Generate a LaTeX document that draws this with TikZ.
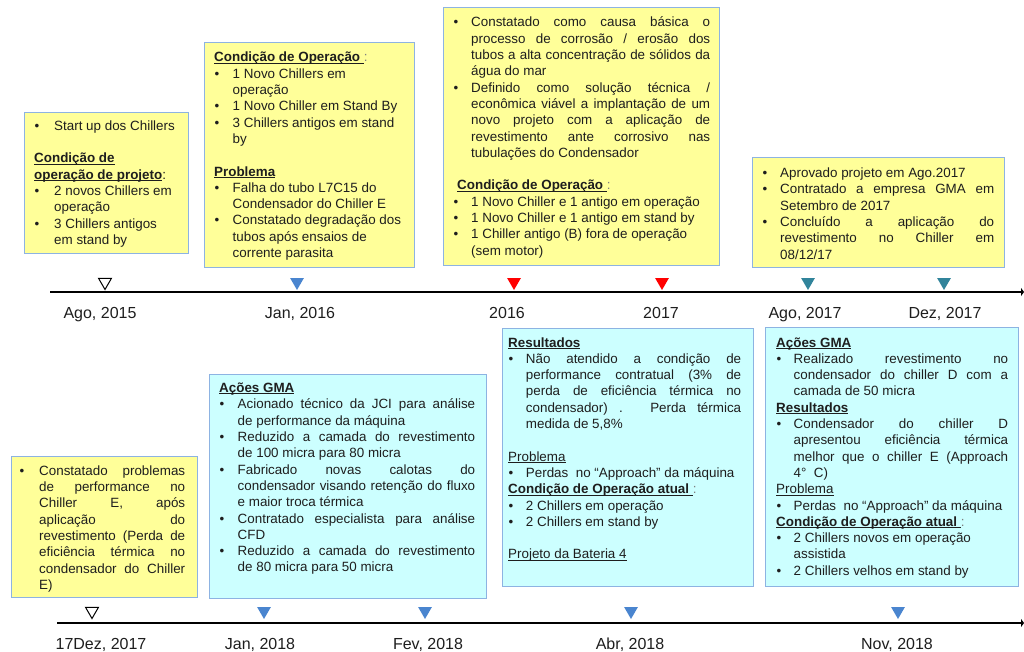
\documentclass[tikz,border=0pt]{standalone}
\usepackage{fontspec}
\setmainfont{Liberation Sans}
\usetikzlibrary{shapes.geometric,arrows.meta}
\definecolor{boxline}{HTML}{8DB3E2}
\definecolor{noteyellow}{HTML}{FFFF99}
\definecolor{notecyan}{HTML}{CCFFFF}
\definecolor{markblue}{HTML}{4A85CF}
\definecolor{markteal}{HTML}{31849B}
\definecolor{markred}{HTML}{FF0000}
\definecolor{ink}{HTML}{1E1E1E}

\newlength{\hangw}
\newsavebox{\undlbox}
\newcommand{\undl}[1]{\sbox{\undlbox}{#1}\rlap{\rule[-1.7pt]{\wd\undlbox}{0.9pt}}\usebox{\undlbox}}
\newcommand{\itm}[1]{\par\hangindent=\hangw\hangafter=1\noindent\strut\makebox[\hangw][l]{\hspace{0.5pt}\textbullet}#1\par}
\newcommand{\hd}[2][0pt]{\par\noindent\strut\hspace{#1}\undl{\textbf{#2}}}
\newcommand{\uhd}[1]{\par\noindent\strut\undl{#1}}
\newcommand{\gap}{\par\vspace{16.3pt}}

\begin{document}
\begin{tikzpicture}[x=1pt,y=-1pt,
  ybox/.style={draw=boxline, fill=noteyellow, line width=1.1pt, anchor=north west, inner sep=0pt},
  cbox/.style={ybox, fill=notecyan},
  txt/.style={anchor=north west, inner sep=0pt, align=justify, text=ink,
              font={\fontsize{13.4}{16.3}\selectfont\tolerance=10000\hbadness=10000\hyphenpenalty=10000}},
  bullethang/.code={\setlength{\hangw}{#1}},
  datelbl/.style={anchor=base, inner sep=0pt, text=ink, font=\fontsize{16}{19}\selectfont},
  tri/.style={regular polygon, regular polygon sides=3, shape border rotate=180,
              minimum size=16pt, inner sep=0pt},
  opentri/.style={tri, draw=black, fill=white, line width=1pt, minimum size=15pt},
  timeline/.style={line width=2.4pt, draw=black, -{Triangle[length=3pt,width=8pt]}}
]
\useasboundingbox (0,0) rectangle (1024,652);

% boxes above the first line
\node[ybox, minimum width=164pt, minimum height=141pt] (b1) at (24,112) {};
\node[ybox, minimum width=210pt, minimum height=225pt] (b2) at (203.5,42) {};
\node[ybox, minimum width=276pt, minimum height=258pt] (b3) at (443,7) {};
\node[ybox, minimum width=252pt, minimum height=110pt] (b4) at (752,157) {};

% boxes above the second line
\node[ybox, minimum width=186pt, minimum height=141pt] (b5) at (10.5,456) {};
\node[cbox, minimum width=277pt, minimum height=224pt] (b6) at (209,374) {};
\node[cbox, minimum width=251pt, minimum height=258pt] (b7) at (502,328) {};
\node[cbox, minimum width=253pt, minimum height=259pt] (b8) at (765,327) {};

\node[txt, text width=148pt, bullethang=20pt] (t1) at (34,113.8) {%
\itm{Start up dos Chillers}
\gap
\par\noindent\strut\undl{\textbf{Condição de}}\newline\undl{\textbf{operação de projeto}}:
\itm{2 novos Chillers em\newline operação}
\itm{3 Chillers antigos\newline em stand by}};

\node[txt, text width=190pt, bullethang=18.5pt] (t2) at (214,45.5) {%
\hd{Condição de Operação\ }{\color{gray}:}
\itm{1 Novo Chillers em\newline operação}
\itm{1 Novo Chiller em Stand By}
\itm{3 Chillers antigos em stand\newline by}
\gap
\hd{Problema}
\itm{Falha do tubo L7C15 do\newline Condensador do Chiller E}
\itm{Constatado degradação dos\newline tubos após ensaios de\newline corrente parasita}};

\node[txt, text width=257pt, bullethang=18pt] (t3) at (453,10.5) {%
\itm{Constatado como causa básica o\linebreak processo de corrosão / erosão dos\linebreak tubos a alta concentração de sólidos da\linebreak água do mar}
\itm{Definido como solução técnica /\linebreak econômica viável a implantação de um\linebreak novo projeto com a aplicação de\linebreak revestimento ante corrosivo nas\linebreak tubulações do Condensador}
\gap
\hd[4pt]{Condição de Operação\ }{\color{gray}:}
\itm{1 Novo Chiller e 1 antigo em operação}
\itm{1 Novo Chiller e 1 antigo em stand by}
\itm{1 Chiller antigo (B) fora de operação\newline (sem motor)}};

\node[txt, text width=232pt, bullethang=18pt] (t4) at (762,161.1) {%
\itm{Aprovado projeto em Ago.2017}
\itm{Contratado a empresa GMA em\linebreak Setembro de 2017}
\itm{Concluído a aplicação do\linebreak revestimento no Chiller em\linebreak 08/12/17}};

\node[txt, text width=166pt, bullethang=20pt] (t5) at (19,458.8) {%
\itm{Constatado problemas\linebreak de performance no\linebreak Chiller E, após\linebreak aplicação do\linebreak revestimento (Perda de\linebreak eficiência térmica no\linebreak condensador do Chiller\linebreak E)}};

\node[txt, text width=256pt, bullethang=18.5pt] (t6) at (219,376.1) {%
\hd{Ações GMA}
\itm{Acionado técnico da JCI para análise\linebreak de performance da máquina}
\itm{Reduzido a camada do revestimento\linebreak de 100 micra para 80 micra}
\itm{Fabricado novas calotas do\linebreak condensador visando retenção do fluxo\linebreak e maior troca térmica}
\itm{Contratado especialista para análise\linebreak CFD}
\itm{Reduzido a camada do revestimento\linebreak de 80 micra para 50 micra}};

\node[txt, text width=233pt, bullethang=17.7pt] (t7) at (508,330.5) {%
\hd{Resultados}
\itm{Não atendido a condição de\linebreak performance contratual (3\% de\linebreak perda de eficiência térmica no\linebreak condensador) . Perda térmica\linebreak medida de 5,8\%}
\gap
\uhd{Problema}
\itm{Perdas\ \ no “Approach” da máquina}
\hd{Condição de Operação atual\ }{\color{gray}:}
\itm{2 Chillers em operação}
\itm{2 Chillers em stand by}
\gap
\uhd{Projeto da Bateria 4}};

\node[txt, text width=232pt, bullethang=17.5pt] (t8) at (776,330.5) {%
\hd{Ações GMA}
\itm{Realizado revestimento no\linebreak condensador do chiller D com a\linebreak camada de 50 micra}
\hd{Resultados}
\itm{Condensador do chiller D\linebreak apresentou eficiência térmica\linebreak melhor que o chiller E (Approach\linebreak 4°\ \ C)}
\uhd{Problema}
\itm{Perdas\ \ no “Approach” da máquina}
\hd{Condição de Operação atual\ }{\color{gray}:}
\itm{2 Chillers novos em operação\newline assistida}
\itm{2 Chillers velhos em stand by}};

% time lines
\coordinate (l1s) at (50,292);
\coordinate (l1e) at (1024,292);
\coordinate (l2s) at (57,623);
\coordinate (l2e) at (1024,623);
\draw[timeline] (l1s) -- (l1e);
\draw[timeline] (l2s) -- (l2e);

% markers, first line
\node[opentri] (m1) at (105,282) {};
\node[tri, fill=markblue] (m2) at (297,282) {};
\node[tri, fill=markred] (m3) at (514,282) {};
\node[tri, fill=markred] (m4) at (662,282) {};
\node[tri, fill=markteal] (m5) at (808,282) {};
\node[tri, fill=markteal] (m6) at (944,282) {};

% markers, second line
\node[opentri] (n1) at (92,611) {};
\node[tri, fill=markblue] (n2) at (264,611) {};
\node[tri, fill=markblue] (n3) at (425,611) {};
\node[tri, fill=markblue] (n4) at (631,611) {};
\node[tri, fill=markblue] (n5) at (898,611) {};

% dates
\node[datelbl] (d1) at (100,318.7) {Ago, 2015};
\node[datelbl] (d2) at (300,318.7) {Jan, 2016};
\node[datelbl] (d3) at (507,318.7) {2016};
\node[datelbl] (d4) at (661,318.7) {2017};
\node[datelbl] (d5) at (805,318.7) {Ago, 2017};
\node[datelbl] (d6) at (945,318.7) {Dez, 2017};
\node[datelbl] (e1) at (101,649.5) {17Dez, 2017};
\node[datelbl] (e2) at (260,649.5) {Jan, 2018};
\node[datelbl] (e3) at (428,649.5) {Fev, 2018};
\node[datelbl] (e4) at (630,649.5) {Abr, 2018};
\node[datelbl] (e5) at (897,649.5) {Nov, 2018};
\end{tikzpicture}
\end{document}
